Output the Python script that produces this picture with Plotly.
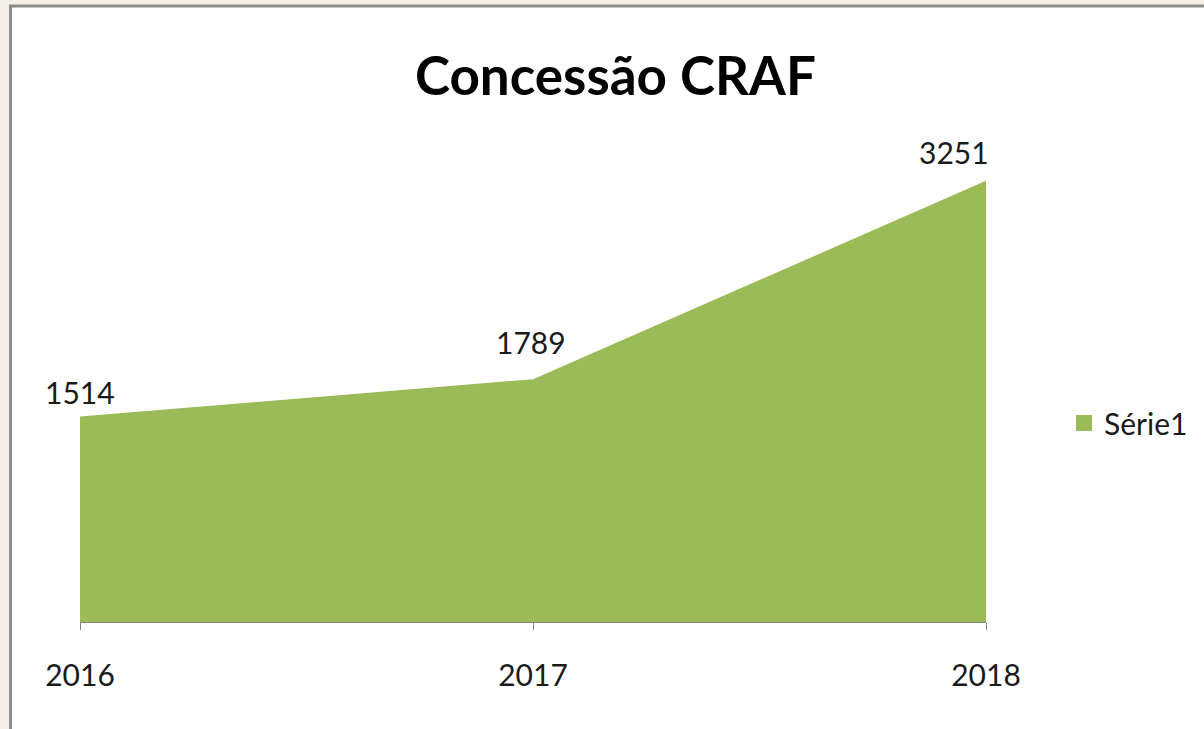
import plotly.graph_objects as go

years = [2016, 2017, 2018]
values = [1514, 1789, 3251]
labels = ["1514", "1789", "3251"]
series_name = "Série1"
title = "Concessão CRAF"

# layout in pixels
W, H = 1204, 729
L, R = 80, 987
T, B = 147, 622
YMAX = 3500

def px_x(p):
    return (p - L) / (R - L)

def px_y(p):
    return (B - p) / (B - T)

fig = go.Figure()
fig.add_trace(go.Scatter(
    x=years, y=values, mode="lines", fill="tozeroy",
    fillcolor="#9bbb59", line=dict(width=0, color="#9bbb59"),
    showlegend=False, hoverinfo="skip",
))
fig.add_trace(go.Scatter(
    x=[None], y=[None], mode="markers", name=series_name,
    marker=dict(symbol="square", size=19, color="#9bbb59"),
    showlegend=True,
))

# data labels (shifts are styling)
xshifts = [0, -2, -32]
yshifts = [25, 37, 29]
for xv, yv, t, xs, ys in zip(years, values, labels, xshifts, yshifts):
    fig.add_annotation(x=xv, y=yv, text=t, showarrow=False,
                       xshift=xs, yshift=ys,
                       font=dict(family="Lato", size=30, color="#1a1a1a"))

# chart area rectangle with grey border
fig.add_shape(type="rect", xref="paper", yref="paper", layer="below",
              x0=px_x(10.5), x1=px_x(1260), y0=px_y(780), y1=px_y(6),
              fillcolor="white", line=dict(color="#8a8a8a", width=3))

fig.update_layout(
    width=W, height=H,
    margin=dict(l=L, r=W - R, t=T, b=H - B, pad=0),
    paper_bgcolor="#f5eee6",
    plot_bgcolor="rgba(0,0,0,0)",
    title=dict(text="<b>" + title + "</b>", x=px_x(616), xref="paper", xanchor="center",
               y=1 - 76 / H, yanchor="middle",
               font=dict(family="Lato", size=53, color="#000000")),
    xaxis=dict(range=[2016, 2018], tickvals=years, ticktext=[str(y) for y in years],
               showgrid=False, zeroline=False, showline=True, linecolor="#868686",
               linewidth=1, ticks="outside", ticklen=7, tickcolor="#868686",
               tickfont=dict(family="Lato", size=30, color="#1a1a1a"),
               ticklabelstandoff=20),
    yaxis=dict(range=[0, YMAX], visible=False, showgrid=False, zeroline=False),
    legend=dict(x=px_x(1064), y=px_y(423), xanchor="left", yanchor="middle",
                bgcolor="rgba(0,0,0,0)",
                font=dict(family="Lato", size=30, color="#1a1a1a"),
                itemwidth=30),
    showlegend=True,
)

fig.write_html("out.html", config={"displayModeBar": False},
               post_script="document.body.style.margin='0';document.body.style.background='#f5eee6';")
